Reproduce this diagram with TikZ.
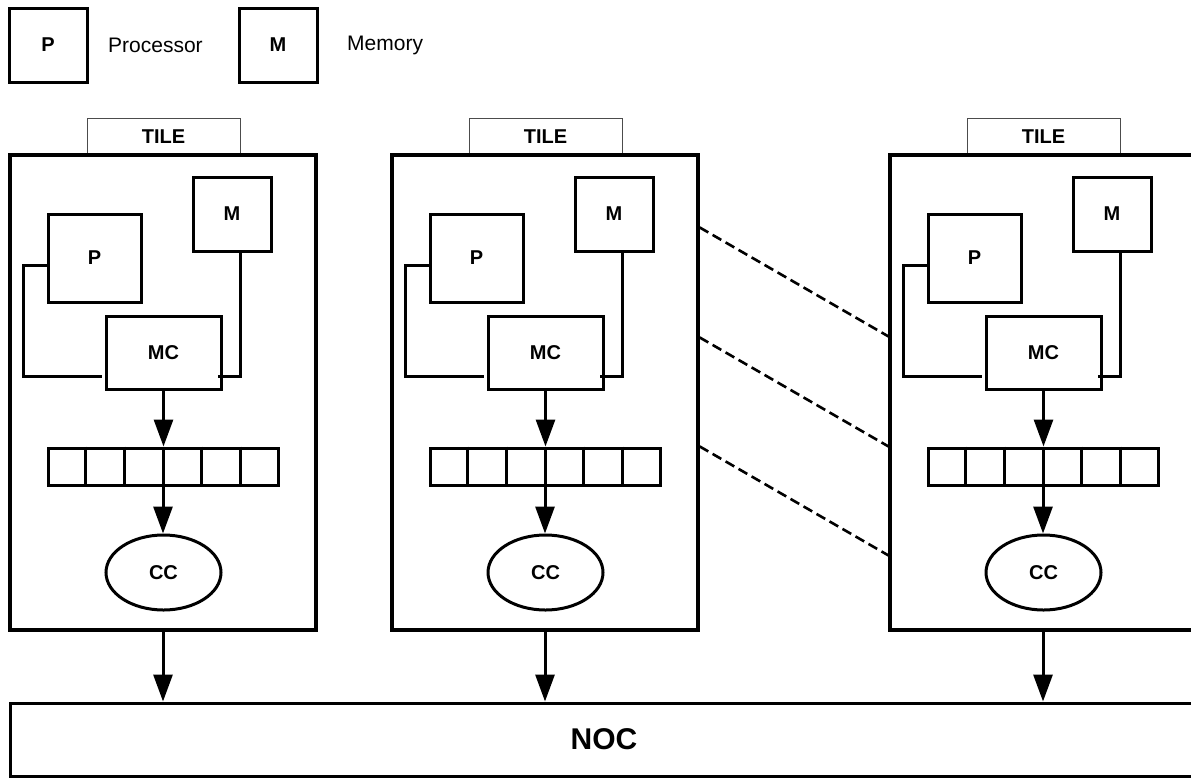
\documentclass[tikz,border=0pt]{standalone}
\usepackage{fontspec}
\setmainfont{Liberation Sans}
\usetikzlibrary{arrows.meta,shapes.geometric,calc}

\newcommand\blockfont{\bfseries\fontsize{20}{24}\selectfont}
\newcommand\legendfont{\fontsize{21}{25}\selectfont}
\newcommand\nocfont{\bfseries\fontsize{30}{36}\selectfont}

\begin{document}
\begin{tikzpicture}[x=1pt,y=-1pt,
  box/.style={draw,line width=3pt,inner sep=0pt,font=\blockfont},
  tabbox/.style={draw=black!70,line width=1pt,inner sep=0pt,font=\blockfont,
    minimum width=153pt,minimum height=37pt},
  tilebox/.style={draw,line width=3.2pt,inner sep=0pt,
    minimum width=306pt,minimum height=475pt},
  wire/.style={line width=3pt},
  arr/.style={line width=3pt,-{Triangle[length=27pt,width=19pt]}},
  dashline/.style={line width=2.6pt,dash pattern=on 10pt off 5pt}
]
\useasboundingbox (0,0) rectangle (1191,777);
\clip (0,0) rectangle (1191,777);

% legend
\node[box,minimum width=78pt,minimum height=74pt] (legP) at (48,45) {P};
\node[anchor=west,inner sep=0pt,font=\legendfont] (legPt) at (108,45) {Processor};
\node[box,minimum width=78pt,minimum height=74pt] (legM) at (278,45) {M};
\node[anchor=west,inner sep=0pt,font=\legendfont] (legMt) at (347,45) {Memory};

% network on chip
\node[box,minimum width=1188pt,minimum height=73pt,font=\nocfont] (NOC) at (604,739.5) {NOC};

% tiles
\foreach \i/\dx in {1/0,2/382,3/880}{
  \begin{scope}[xshift=\dx pt]
    \node[tabbox] (tab\i) at (163.5,136.5) {TILE};
    \node[tilebox] (T\i) at (163,392.5) {};
    \node[box,minimum width=93pt,minimum height=88pt] (P\i) at (94.5,258) {P};
    \node[box,minimum width=78pt,minimum height=74pt] (M\i) at (232,214) {M};
    \node[box,minimum width=115pt,minimum height=73pt] (MC\i) at (163.5,352.5) {MC};
    \node[box,minimum width=230pt,minimum height=37pt] (buf\i) at (163,466.5) {};
    \foreach \k in {1,...,5}
      \draw[wire] ($(buf\i.north west)!\k/6!(buf\i.north east)$) --
                  ($(buf\i.south west)!\k/6!(buf\i.south east)$);
    \node[box,ellipse,minimum width=115pt,minimum height=75pt] (CC\i) at (163.5,572.5) {CC};

    \draw[wire] ([yshift=-7pt]P\i.west) -- ++(-23,0)
                |- ([xshift=-3pt,yshift=14pt]MC\i.south west);
    \draw[wire] ([xshift=8pt]M\i.south)
                |- ([xshift=-5pt,yshift=14pt]MC\i.south east);
    \draw[arr] (MC\i.south) -- (MC\i.south |- buf\i.north);
    \draw[arr] (buf\i.south) -- (buf\i.south |- CC\i.north);
    \draw[arr] (T\i.south) -- (T\i.south |- NOC.north);
  \end{scope}
}

% links between neighbouring tiles
\draw[dashline] ([yshift=-74pt]T2.north east) -- ([yshift=-183pt]T3.north west);
\draw[dashline] ([yshift=-184pt]T2.north east) -- ([yshift=-293pt]T3.north west);
\draw[dashline] ([yshift=-293pt]T2.north east) -- ([yshift=-402pt]T3.north west);
\end{tikzpicture}
\end{document}
